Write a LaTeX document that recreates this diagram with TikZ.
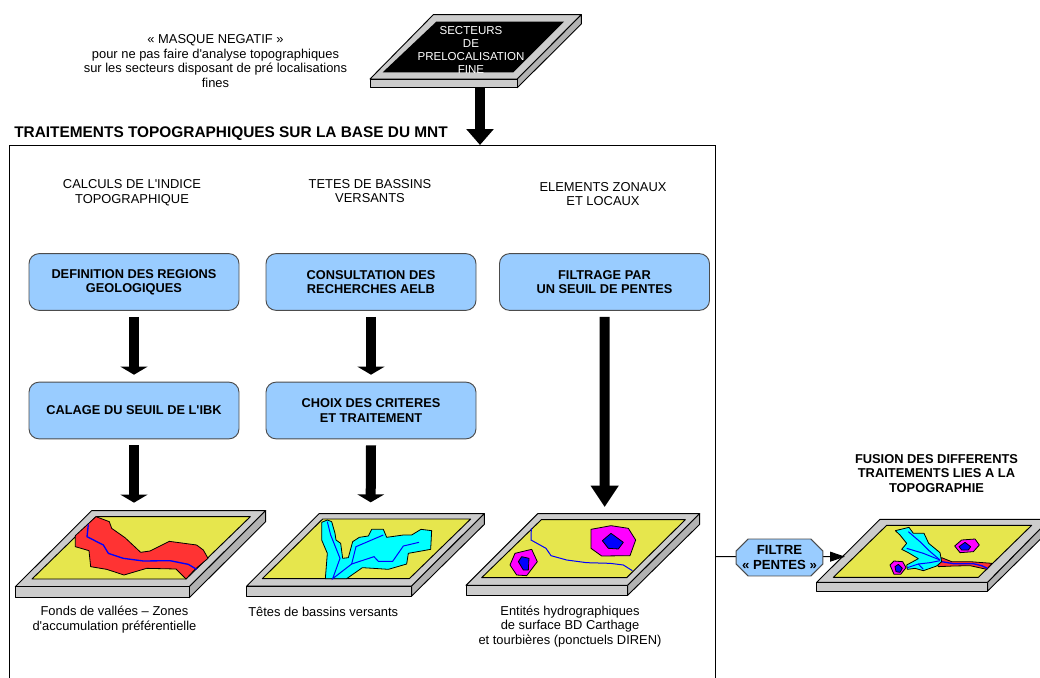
\documentclass[tikz,border=0pt]{standalone}
\usepackage{fontspec}
\setmainfont{Liberation Sans}
\usetikzlibrary{arrows.meta,shapes.misc}
\definecolor{boxblue}{HTML}{99CCFF}
\definecolor{platetop}{HTML}{CCCCCC}
\definecolor{plateside}{HTML}{B2B2B2}
\definecolor{landyellow}{HTML}{E6E64D}
\definecolor{zonered}{HTML}{FF3333}
\definecolor{zonecyan}{HTML}{00FFFF}
\definecolor{zonemag}{HTML}{FF00FF}
\definecolor{zoneblue}{HTML}{0000FF}
\newcommand{\qs}{\textquotesingle}
\tikzset{
  lbl/.style={align=center,font=\fontsize{9.68pt}{11.1pt}\selectfont,inner sep=0pt},
  ttl/.style={align=center,font=\fontsize{9.68pt}{11pt}\selectfont,inner sep=0pt},
  bx/.style={draw=black!70,fill=boxblue,rounded corners=7.5pt,minimum width=157.5pt,minimum height=42.5pt,align=center,inner sep=0pt,line width=.7pt,font=\bfseries\fontsize{9.6pt}{10.8pt}\selectfont},
  bigarrow/.style={line width=7.5pt,-{Triangle[width=20pt,length=#1]}},
  plate/.style={draw=black,line width=.7pt,line join=round},
  riv/.style={draw=zoneblue,line width=.75pt},
  thin outline/.style={draw=black,line width=.6pt,line join=round},
}
\begin{document}
\begin{tikzpicture}[x=.75pt,y=-.75pt]
\clip (0,0) rectangle (1040,678);
\useasboundingbox (0,0) rectangle (1040,678);
% frame
\draw[line width=.75pt] (9,700) -- (9,145.5) -- (715.7,145.5) -- (715.7,700);
% top plate
\begin{scope}[shift={(360,0)},x=.25pt,y=-.25pt]
\fill[platetop,plate] (220,44) -- (664,44) -- (472,237) -- (30,237) -- cycle;
\fill[plateside,plate] (664,44) -- (664,72) -- (472,263) -- (472,237) -- cycle;
\fill[platetop,plate] (30,237) -- (472,237) -- (472,263) -- (30,263) -- cycle;
\fill[black] (229,65) -- (612,65) -- (460,217) -- (68,217) -- cycle;
\coordinate (plateA) at (360,263);
\end{scope}
\node[inner sep=0pt,align=center,text=white,font=\fontsize{8.65pt}{9.6pt}\selectfont] (sect) at (471,50) {SECTEURS\\DE\\PRELOCALISATION\\FINE};
\node[ttl] (masque) at (215.5,61) {« MASQUE NEGATIF »\\pour ne pas faire d\qs analyse topographiques\\sur les secteurs disposant de pré localisations\\fines};
\node[anchor=west,inner sep=0pt,font=\bfseries\fontsize{11.55pt}{12pt}\selectfont] (titre) at (14,134) {TRAITEMENTS TOPOGRAPHIQUES SUR LA BASE DU MNT};
\coordinate (frametop) at (480,145);
\draw[bigarrow=12pt] (plateA) -- (frametop);
% column heads
\node[ttl] (h1) at (132,193) {CALCULS DE L\qs INDICE\\TOPOGRAPHIQUE};
\node[ttl] (h2) at (370,191) {TETES DE BASSINS\\VERSANTS};
\node[ttl] (h3) at (603,194) {ELEMENTS ZONAUX\\ET LOCAUX};
% boxes
\node[bx] (b1) at (134,282) {DEFINITION DES REGIONS\\GEOLOGIQUES};
\node[bx] (b2) at (134,410.5) {CALAGE DU SEUIL DE L\qs IBK};
\node[bx] (b3) at (371,282) {CONSULTATION DES\\RECHERCHES AELB};
\node[bx] (b4) at (371,410.5) {CHOIX DES CRITERES\\ET TRAITEMENT};
\node[bx] (b5) at (604.5,282) {FILTRAGE PAR\\UN SEUIL DE PENTES};
% plate 1
\begin{scope}[shift={(0,490)},x=.25pt,y=-.25pt]
\fill[platetop,plate] (275,62) -- (797,62) -- (568,290) -- (46,290) -- cycle;
\fill[plateside,plate] (797,62) -- (797,95) -- (568,323) -- (568,290) -- cycle;
\fill[platetop,plate] (46,290) -- (568,290) -- (568,323) -- (46,323) -- cycle;
\fill[landyellow,plate] (288,80) -- (751,80) -- (558,267) -- (96,267) -- cycle;
\fill[zonered,thin outline] (288,80) -- (328,95) -- (335,115) -- (375,143) -- (422,187) -- (450,183) -- (508,154) -- (590,165) -- (610,180) -- (624,205) -- (585,238) -- (558,267) -- (528,237) -- (440,235) -- (372,255) -- (320,238) -- (272,230) -- (267,182) -- (226,170) -- (226,137) -- cycle;
\draw[riv,line width=1pt] (265,103) -- (261,140) -- (310,165) -- (325,190) -- (370,205) -- (430,213) -- (510,212) -- (565,223) -- (590,238);
\coordinate (plate1) at (402,38);
\end{scope}
% plate 2
\begin{scope}[shift={(240,490)},x=.25pt,y=-.25pt]
\fill[platetop,plate] (237,71) -- (733,71) -- (515,288) -- (20,288) -- cycle;
\fill[plateside,plate] (733,71) -- (733,103) -- (515,318) -- (515,288) -- cycle;
\fill[platetop,plate] (20,288) -- (515,288) -- (515,318) -- (20,318) -- cycle;
\fill[landyellow,plate] (248,87) -- (692,87) -- (508,266) -- (67,266) -- cycle;
\fill[zonecyan,thin outline] (245,97) -- (262,90) -- (275,95) -- (285,130) -- (288,150) -- (302,160) -- (308,205) -- (325,203) -- (338,155) -- (358,142) -- (385,138) -- (395,118) -- (430,118) -- (440,142) -- (490,135) -- (515,135) -- (543,118) -- (575,122) -- (572,178) -- (505,190) -- (500,222) -- (445,238) -- (400,235) -- (367,233) -- (320,266) -- (256,266) -- (262,190) -- (245,150) -- cycle;
\draw[riv] (262,95) -- (272,135) -- (300,205) -- (278,266) -- (335,222) -- (402,200) -- (415,214) -- (458,214) -- (490,168) -- (537,157);
\draw[riv] (335,222) -- (348,170) -- (430,135);
\coordinate (plate2) at (392,37);
\end{scope}
% plate 3
\begin{scope}[shift={(460,490)},x=.25pt,y=-.25pt]
\fill[platetop,plate] (233,71) -- (719,71) -- (503,286) -- (18,286) -- cycle;
\fill[plateside,plate] (719,71) -- (719,103) -- (503,316) -- (503,286) -- cycle;
\fill[platetop,plate] (18,286) -- (503,286) -- (503,316) -- (18,316) -- cycle;
\fill[landyellow,plate] (244,89) -- (676,89) -- (500,263) -- (65,263) -- cycle;
\draw[riv] (214,115) -- (213,150) -- (258,175) -- (273,197) -- (320,210) -- (380,218) -- (450,220) -- (490,225) -- (517,242);
\fill[zonemag,thin outline] (393,118) -- (453,107) -- (505,115) -- (527,150) -- (510,197) -- (425,198) -- (393,175) -- cycle;
\fill[zoneblue,thin outline] (427,152) -- (453,130) -- (490,157) -- (475,177) -- (445,175) -- cycle;
\fill[zonemag,thin outline] (150,225) -- (165,190) -- (215,178) -- (232,215) -- (200,257) -- (170,255) -- cycle;
\fill[zoneblue,thin outline] (175,215) -- (185,200) -- (207,205) -- (205,240) -- (190,240) -- cycle;
\coordinate (plate3) at (434,51);
\end{scope}
% plate 4
\begin{scope}[shift={(710,500)},x=.25pt,y=-.25pt]
\fill[platetop,plate] (510,58) -- (1019,58) -- (833,247) -- (320,247) -- cycle;
\fill[plateside,plate] (1019,58) -- (1019,90) -- (833,273) -- (833,247) -- cycle;
\fill[platetop,plate] (320,247) -- (833,247) -- (833,273) -- (320,273) -- cycle;
\fill[landyellow,plate] (530,76) -- (965,76) -- (805,232) -- (370,232) -- cycle;
\fill[zonered,thin outline] (682,190) -- (695,173) -- (725,185) -- (780,185) -- (846,190) -- (830,208) -- (780,197) -- (730,198) -- (685,200) -- cycle;
\draw[riv,line width=1pt] (695,185) -- (730,191) -- (790,191) -- (815,197) -- (832,205);
\fill[zonecyan,thin outline] (556,92) -- (597,82) -- (610,100) -- (642,100) -- (656,130) -- (690,158) -- (695,185) -- (680,198) -- (640,212) -- (615,205) -- (592,208) -- (590,195) -- (625,176) -- (595,158) -- (575,148) -- (590,130) -- (570,105) -- cycle;
\draw[riv] (595,95) -- (630,125) -- (655,150) -- (690,180);
\draw[riv] (590,145) -- (640,160) -- (690,180);
\draw[riv] (690,182) -- (660,188) -- (625,192) -- (592,203);
\draw[riv] (625,192) -- (640,208);
\fill[zonemag,thin outline] (540,195) -- (552,183) -- (578,185) -- (588,203) -- (572,223) -- (552,223) -- cycle;
\fill[zoneblue,thin outline] (555,200) -- (565,193) -- (577,205) -- (570,217) -- (558,215) -- cycle;
\fill[zonemag,thin outline] (734,138) -- (755,120) -- (795,117) -- (808,135) -- (790,155) -- (750,158) -- cycle;
\fill[zoneblue,thin outline] (747,140) -- (765,127) -- (782,140) -- (775,150) -- (755,150) -- cycle;
\coordinate (plate4) at (405,170);
\end{scope}
% captions
\node[lbl] (c1) at (114.5,619.5) {Fonds de vallées – Zones\\d\qs accumulation préférentielle};
\node[lbl,anchor=west] (c2) at (248,612) {Têtes de bassins versants};
\node[lbl] (c3) at (570,626.5) {Entités hydrographiques\\de surface BD Carthage\\et tourbières (ponctuels DIREN)};
\node[inner sep=0pt,align=center,font=\bfseries\fontsize{9.65pt}{11pt}\selectfont] (fusion) at (936.5,473.5) {FUSION DES DIFFERENTS\\TRAITEMENTS LIES A LA\\TOPOGRAPHIE};
% big arrows
\draw[bigarrow=6pt] ([yshift=-4.5pt]b1.south) -- ([yshift=5.25pt]b2.north);
\draw[bigarrow=6pt] ([yshift=-4.5pt]b2.south) -- (plate1);
\draw[bigarrow=6pt] ([yshift=-4.5pt]b3.south) -- ([yshift=5.25pt]b4.north);
\draw[bigarrow=6pt] ([yshift=-4.5pt]b4.south) -- (plate2);
\draw[bigarrow=16pt] ([yshift=-4.5pt]b5.south) -- (plate3);
% filter
\coordinate (framert) at (716,556.7);
\draw[line width=.75pt,-{Triangle[width=7.5pt,length=11.25pt]}] (framert) -- (plate4);
\node[chamfered rectangle,chamfered rectangle xsep=4.5pt,chamfered rectangle ysep=4.5pt,draw=black!70,fill=boxblue,line width=.7pt,minimum width=60.5pt,minimum height=24pt,inner sep=0pt,align=center,font=\bfseries\fontsize{9.9pt}{11.8pt}\selectfont] (filtre) at (779.5,557.5) {FILTRE\\« PENTES »};
\end{tikzpicture}
\end{document}
